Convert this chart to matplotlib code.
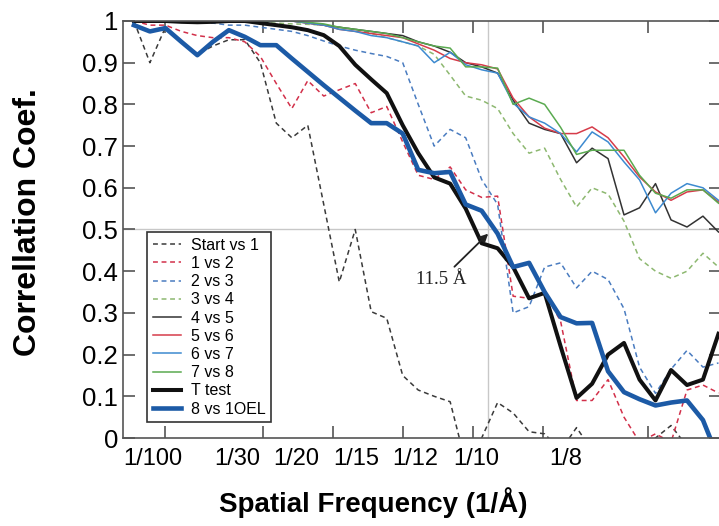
import matplotlib
matplotlib.use("Agg")
import matplotlib.pyplot as plt

# spatial frequency of each shell (1/A)
freq = [0.0026, 0.0064, 0.0101, 0.0139, 0.0177, 0.0214, 0.0252, 0.0290, 0.0327, 0.0365,
        0.0402, 0.0440, 0.0478, 0.0515, 0.0553, 0.0591, 0.0628, 0.0666, 0.0703, 0.0741,
        0.0779, 0.0816, 0.0854, 0.0892, 0.0929, 0.0967, 0.1004, 0.1042, 0.1080, 0.1117,
        0.1155, 0.1193, 0.1230, 0.1268, 0.1305, 0.1343, 0.1381, 0.1418]

start_vs_1 = [1.0, 0.90, 0.985, 0.95, 0.92, 0.94, 0.955, 0.955, 0.90, 0.755,
              0.72, 0.75, 0.56, 0.374, 0.50, 0.303, 0.287, 0.15, 0.115, 0.10,
              0.087, -0.06, 0.0, 0.085, 0.06, 0.015, 0.01, -0.03, 0.025, -0.03,
              -0.05, -0.05, -0.03, 0.0, 0.03, -0.02, -0.02, -0.02]
one_vs_2 = [1.0, 0.99, 0.99, 0.975, 0.965, 0.96, 0.96, 0.95, 0.915, 0.85,
            0.79, 0.857, 0.82, 0.835, 0.85, 0.78, 0.795, 0.71, 0.63, 0.62,
            0.65, 0.595, 0.577, 0.58, 0.34, 0.335, 0.35, 0.28, 0.09, 0.09,
            0.14, 0.05, -0.01, 0.01, -0.01, 0.115, 0.127, 0.108]
two_vs_3 = [1.0, 1.0, 1.0, 1.0, 0.995, 0.995, 0.99, 0.99, 0.985, 0.98,
            0.975, 0.965, 0.952, 0.94, 0.93, 0.922, 0.915, 0.90, 0.80, 0.70,
            0.74, 0.72, 0.62, 0.56, 0.30, 0.315, 0.41, 0.42, 0.36, 0.40,
            0.38, 0.31, 0.17, 0.107, 0.165, 0.21, 0.17, 0.18]
three_vs_4 = [1.0, 1.0, 1.0, 1.0, 1.0, 1.0, 1.0, 1.0, 0.995, 0.995,
              0.993, 0.992, 0.99, 0.985, 0.98, 0.97, 0.96, 0.95, 0.94, 0.92,
              0.87, 0.82, 0.81, 0.79, 0.73, 0.683, 0.695, 0.62, 0.554, 0.60,
              0.585, 0.52, 0.43, 0.40, 0.383, 0.40, 0.443, 0.41]
four_vs_5 = [1.0, 1.0, 1.0, 1.0, 1.0, 1.0, 1.0, 1.0, 1.0, 1.0,
             1.0, 0.995, 0.99, 0.985, 0.98, 0.975, 0.97, 0.965, 0.95, 0.94,
             0.925, 0.90, 0.89, 0.875, 0.81, 0.755, 0.74, 0.73, 0.66, 0.695,
             0.67, 0.535, 0.552, 0.61, 0.523, 0.506, 0.532, 0.494]
five_vs_6 = [1.0, 1.0, 1.0, 1.0, 1.0, 1.0, 1.0, 1.0, 1.0, 1.0,
             1.0, 0.995, 0.99, 0.98, 0.975, 0.97, 0.965, 0.96, 0.945, 0.93,
             0.91, 0.90, 0.895, 0.885, 0.815, 0.77, 0.743, 0.73, 0.73, 0.746,
             0.72, 0.674, 0.626, 0.59, 0.57, 0.59, 0.595, 0.566]
six_vs_7 = [1.0, 1.0, 1.0, 1.0, 1.0, 1.0, 1.0, 1.0, 1.0, 1.0,
            1.0, 0.995, 0.99, 0.98, 0.975, 0.965, 0.96, 0.95, 0.94, 0.90,
            0.925, 0.895, 0.883, 0.875, 0.803, 0.77, 0.755, 0.73, 0.686, 0.734,
            0.71, 0.662, 0.619, 0.54, 0.587, 0.61, 0.60, 0.57]
seven_vs_8 = [1.0, 1.0, 1.0, 1.0, 1.0, 1.0, 1.0, 1.0, 1.0, 1.0,
              1.0, 0.997, 0.993, 0.985, 0.98, 0.975, 0.97, 0.96, 0.95, 0.94,
              0.935, 0.89, 0.89, 0.887, 0.80, 0.815, 0.80, 0.745, 0.68, 0.69,
              0.69, 0.69, 0.63, 0.587, 0.575, 0.595, 0.595, 0.563]
t_test = [1.0, 1.0, 1.0, 0.998, 0.997, 0.998, 1.0, 1.0, 0.995, 0.99,
          0.985, 0.978, 0.966, 0.94, 0.895, 0.86, 0.827, 0.75, 0.683, 0.625,
          0.61, 0.55, 0.467, 0.455, 0.41, 0.335, 0.348, 0.22, 0.096, 0.13,
          0.20, 0.228, 0.14, 0.09, 0.163, 0.127, 0.14, 0.25]
eight_vs_1oel = [0.99, 0.975, 0.983, 0.95, 0.918, 0.95, 0.978, 0.962, 0.942, 0.942,
                 0.91, 0.878, 0.846, 0.816, 0.785, 0.755, 0.755, 0.73, 0.643, 0.635,
                 0.638, 0.56, 0.545, 0.49, 0.41, 0.42, 0.35, 0.29, 0.275, 0.276,
                 0.16, 0.11, 0.093, 0.078, 0.085, 0.09, 0.043, -0.05]

# x ticks sit at the true frequencies, the labels are set off to their left
tick_freq = [1 / 100, 1 / 30, 1 / 20, 1 / 15, 1 / 12, 1 / 10, 1 / 8]
tick_labels = ["1/100", "1/30", "1/20", "1/15", "1/12", "1/10", "1/8"]
label_pos = [0.0071, 0.0271, 0.0412, 0.0555, 0.0695, 0.0840, 0.1055]
resolution = 11.5

plt.rcParams["font.family"] = ["Liberation Sans", "DejaVu Sans"]

fig = plt.figure(figsize=(7.19, 5.26), dpi=100)
ax = fig.add_axes([0.1711, 0.1673, 0.8317, 0.7928])

dash = (0, (3.2, 2.4))
ax.axhline(0.5, color="#c8c8c8", lw=1.0, zorder=0)
ax.axvline(1 / resolution, color="#c8c8c8", lw=1.0, zorder=0)

ax.plot(freq, start_vs_1, color="#3a3a3a", lw=1.1, ls=dash, label="Start vs 1")
ax.plot(freq, one_vs_2, color="#d2304a", lw=1.1, ls=dash, label="1 vs 2")
ax.plot(freq, two_vs_3, color="#4a7cc0", lw=1.1, ls=dash, label="2 vs 3")
ax.plot(freq, three_vs_4, color="#8db870", lw=1.1, ls=dash, label="3 vs 4")
ax.plot(freq, four_vs_5, color="#333333", lw=1.1, label="4 vs 5")
ax.plot(freq, five_vs_6, color="#d63c4a", lw=1.1, label="5 vs 6")
ax.plot(freq, six_vs_7, color="#3d8ad0", lw=1.1, label="6 vs 7")
ax.plot(freq, seven_vs_8, color="#5aaa50", lw=1.1, label="7 vs 8")
ax.plot(freq, t_test, color="#111111", lw=2.9, label="T test")
ax.plot(freq, eight_vs_1oel, color="#1c5aa6", lw=3.3, label="8 vs 1OEL")

ax.annotate(f"{resolution} Å", xy=(1 / resolution, 0.49), xytext=(0.0757, 0.379),
            ha="center", va="center", fontsize=13.5, family=["Liberation Serif", "DejaVu Serif"],
            color="#222222",
            arrowprops=dict(arrowstyle="-|>", color="#222222", lw=1.3,
                            mutation_scale=12, shrinkA=2, shrinkB=0))

ax.set_xlim(0, 0.1424)
ax.set_ylim(0, 1)

ax.set_xticks(tick_freq)
ax.set_xticklabels([])
ax.set_xticks(label_pos, tick_labels, minor=True)
ax.tick_params(axis="x", which="minor", length=0, pad=7, labelsize=17)

yticks = [0, 0.1, 0.2, 0.3, 0.4, 0.5, 0.6, 0.7, 0.8, 0.9, 1]
ax.set_yticks(yticks, ["0", "0.1", "0.2", "0.3", "0.4", "0.5", "0.6", "0.7", "0.8", "0.9", "1"])
ax.tick_params(axis="both", which="major", direction="in", length=8.5, width=1.2,
               color="#555555", top=True, right=True, pad=3.5)
ax.tick_params(axis="y", which="major", labelsize=18.5)

for spine in ax.spines.values():
  spine.set_color("#555555")
  spine.set_linewidth(1.2)

fig.text(0.519, 0.045, "Spatial Frequency (1/Å)", ha="center", va="center",
         fontsize=20, fontweight="bold")
fig.text(0.039, 0.578, "Correllation Coef.", ha="center", va="center",
         rotation=90, fontsize=23, fontweight="bold")

ax.legend(loc="lower left", bbox_to_anchor=(0.040, 0.038), borderaxespad=0,
          fontsize=11.5, frameon=True, fancybox=False, edgecolor="#333333",
          framealpha=1, labelspacing=0.2, handlelength=1.8, handletextpad=0.6,
          borderpad=0.35)
ax.get_legend().get_frame().set_linewidth(1.2)

fig.savefig("out.png", dpi=100)
